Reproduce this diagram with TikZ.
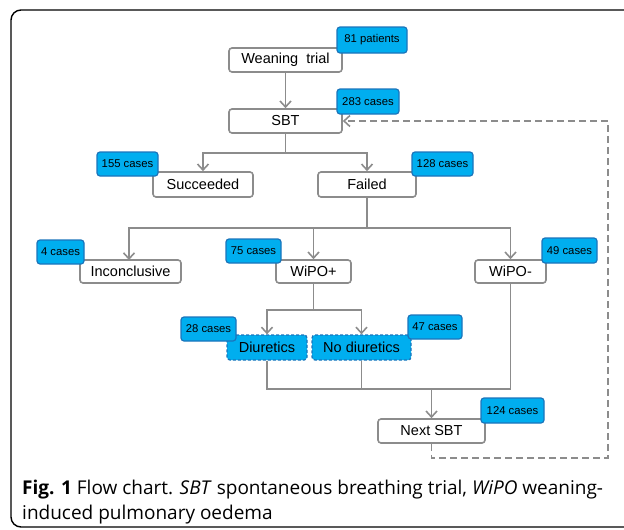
\documentclass[tikz,border=0pt]{standalone}
\usepackage{fontspec}
\setmainfont{Liberation Sans}
\newfontfamily\capfont{Open Sans}
\usetikzlibrary{arrows.meta}

\definecolor{boxgray}{HTML}{8C8C8C}
\definecolor{badgecyan}{HTML}{00AEEF}
\definecolor{badgeblue}{HTML}{1B75BB}

\tikzstyle{block} = [rectangle, draw=boxgray, line width=1.6pt, fill=white,
    rounded corners=3pt, inner sep=0pt, font=\fontsize{14.5}{16}\selectfont]
\tikzstyle{subgroup} = [rectangle, draw=badgeblue, line width=1.3pt, dashed,
    dash pattern=on 3pt off 2pt, fill=badgecyan, rounded corners=3pt,
    inner sep=0pt, font=\fontsize{14.5}{16}\selectfont]
\tikzstyle{count} = [rectangle, draw=badgeblue, line width=1.2pt, fill=badgecyan,
    rounded corners=3pt, inner sep=0pt, font=\fontsize{11.3}{13}\selectfont]
\tikzstyle{line} = [draw=boxgray, line width=1.6pt,
    -{Straight Barb[length=6pt,width=11pt,line width=1.6pt]}]
\tikzstyle{plain} = [draw=boxgray, line width=1.6pt]
\tikzstyle{back} = [line, dashed, dash pattern=on 7pt off 4pt]

\begin{document}
\begin{tikzpicture}[x=1pt, y=-1pt]
    \useasboundingbox (0,0) rectangle (624,530);
    % outer frame, cut by the page
    \draw [line width=1.4pt, rounded corners=10pt] (640,10) -- (11,10) -- (11,527) -- (640,527);

    % main boxes
    \node [block, minimum width=113pt, minimum height=24pt] (Trial) at (285.5,60) {Weaning\ \ trial};
    \node [block, minimum width=113pt, minimum height=24pt] (SBT) at (285.5,121) {SBT};
    \node [block, minimum width=100pt, minimum height=25pt] (Succeeded) at (203,184.5) {Succeeded};
    \node [block, minimum width=98pt, minimum height=25pt] (Failed) at (367,184.5) {Failed};
    \node [block, minimum width=101pt, minimum height=23pt] (Inconclusive) at (130.5,271.5) {Inconclusive};
    \node [block, minimum width=75pt, minimum height=23pt] (WiPOplus) at (313.5,271.5) {WiPO+};
    \node [block, minimum width=71pt, minimum height=23pt] (WiPOminus) at (510.5,271.5) {WiPO-};
    \node [subgroup, minimum width=80pt, minimum height=25pt] (Diuretics) at (267,347.5) {Diuretics};
    \node [subgroup, minimum width=99pt, minimum height=25pt] (NoDiuretics) at (361.5,347.5) {No diuretics};
    \node [block, minimum width=107pt, minimum height=24pt] (NextSBT) at (431.5,431) {Next SBT};

    % connectors
    \path [line] (Trial) -- (SBT);
    \path [line] (SBT.south) |- (203,153) -- (Succeeded.north);
    \path [line] (SBT.south) |- (367,153) -- (Failed.north);
    \path [line] (Failed.south) |- (129,228) -- (129,260);
    \path [line] (Failed.south) |- (313.5,228) -- (WiPOplus.north);
    \path [line] (Failed.south) |- (510.5,228) -- (WiPOminus.north);
    \path [line] (WiPOplus.south) |- (267,310) -- (Diuretics.north);
    \path [line] (WiPOplus.south) |- (361.5,310) -- (NoDiuretics.north);
    \path [plain] (Diuretics.south) |- (510.5,389) -- (WiPOminus.south);
    \path [plain] (NoDiuretics.south) -- (361.5,389);
    \path [line] (431.5,389) -- (NextSBT.north);
    \path [back] (NextSBT.south) |- (608,458) |- (SBT.east);

    % counts
    \node [count, minimum width=70pt, minimum height=26pt] (nTrial) at (372,40) {81 patients};
    \node [count, minimum width=62pt, minimum height=25pt] (nSBT) at (368,101.5) {283 cases};
    \node [count, minimum width=61pt, minimum height=24pt] (nSucceeded) at (127.5,164) {155 cases};
    \node [count, minimum width=61pt, minimum height=24pt] (nFailed) at (442.5,164) {128 cases};
    \node [count, minimum width=47pt, minimum height=24pt] (nInconclusive) at (60.5,252) {4 cases};
    \node [count, minimum width=55pt, minimum height=24pt] (nWiPOplus) at (253.5,251) {75 cases};
    \node [count, minimum width=55pt, minimum height=25pt] (nWiPOminus) at (569.5,250.5) {49 cases};
    \node [count, minimum width=55pt, minimum height=24pt] (nDiuretics) at (208.5,329) {28 cases};
    \node [count, minimum width=54pt, minimum height=24pt] (nNoDiuretics) at (435,327) {47 cases};
    \node [count, minimum width=63pt, minimum height=25pt] (nNextSBT) at (512.5,410.5) {124 cases};

    % caption
    \node [anchor=base west, inner sep=0pt, font=\capfont\fontsize{19}{22}\selectfont] (cap1) at (22,494)
        {\textbf{Fig. 1} Flow chart. \textit{SBT} spontaneous breathing trial, \textit{WiPO} weaning-};
    \node [anchor=base west, inner sep=0pt, font=\capfont\fontsize{19}{22}\selectfont] (cap2) at (22,519)
        {induced pulmonary oedema};
\end{tikzpicture}
\end{document}
